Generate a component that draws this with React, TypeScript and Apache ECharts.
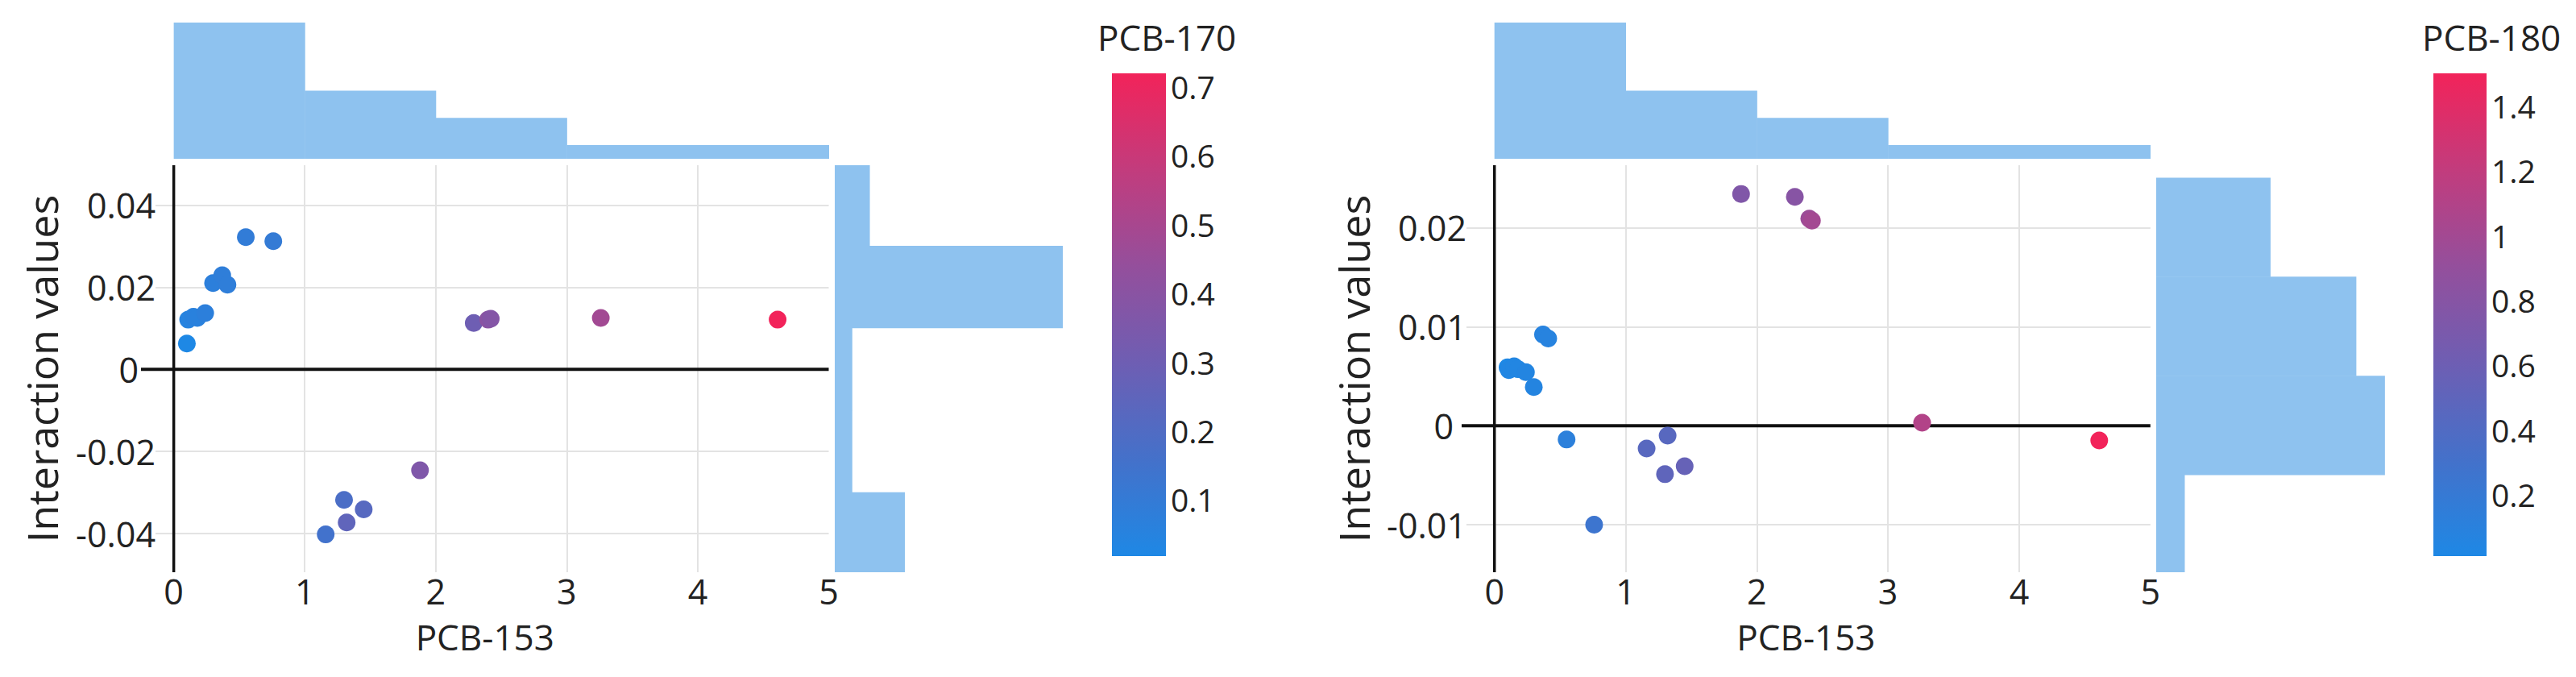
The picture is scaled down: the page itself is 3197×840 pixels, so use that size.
import React, { useEffect, useRef } from 'react';
import * as echarts from 'echarts';

// ---- data ----
const pcb153 = [0.10, 0.11, 0.15, 0.18, 0.24, 0.30, 0.37, 0.41, 0.55, 0.76, 1.16, 1.30, 1.32, 1.45, 1.88, 2.29, 2.40, 2.42, 3.26, 4.61];

const interaction170 = [0.0063, 0.0121, 0.0128, 0.0125, 0.0137, 0.0210, 0.0229, 0.0206, 0.0322, 0.0312, -0.0402, -0.0318, -0.0373, -0.0341, -0.0246, 0.0113, 0.0121, 0.0123, 0.0125, 0.0121];
const pcb170 = [0.018, 0.05, 0.06, 0.06, 0.07, 0.07, 0.08, 0.08, 0.09, 0.10, 0.15, 0.18, 0.25, 0.22, 0.36, 0.30, 0.40, 0.38, 0.48, 0.719];

const interaction180 = [0.0059, 0.0056, 0.0060, 0.0057, 0.0054, 0.0039, 0.0092, 0.0088, -0.0014, -0.0100, -0.0023, -0.0049, -0.0010, -0.0041, 0.0234, 0.0231, 0.0209, 0.0207, 0.0003, -0.0015];
const pcb180 = [0.01, 0.03, 0.04, 0.04, 0.05, 0.06, 0.08, 0.08, 0.12, 0.25, 0.45, 0.50, 0.45, 0.55, 0.75, 0.80, 0.95, 1.00, 1.10, 1.50];

const xBinEdges = [0, 1, 2, 3, 4, 5];
const xBinCounts = [10, 5, 3, 1, 1];

const yBinEdges170 = [-0.05, -0.03, -0.01, 0.01, 0.03, 0.05];
const yBinCounts170 = [4, 1, 1, 13, 2];

const yBinEdges180 = [-0.015, -0.005, 0.005, 0.015, 0.025];
const yBinCounts180 = [1, 8, 7, 4];

const xTickLabels = [0, 1, 2, 3, 4, 5];
const xGridValues = [1, 2, 3, 4];
const yTicks170 = [-0.04, -0.02, 0, 0.02, 0.04];
const yTicks180 = [-0.01, 0, 0.01, 0.02];
const cbTicks170 = [0.1, 0.2, 0.3, 0.4, 0.5, 0.6, 0.7];
const cbTicks180 = [0.2, 0.4, 0.6, 0.8, 1, 1.2, 1.4];

const FONT = '"Open Sans", "Noto Sans", sans-serif';
const TEXT = '#222';
const HIST = '#8EC2EF';
const GRIDC = '#e3e3e3';
const CMAP = ['#1E88E5', '#4471CA', '#6E5EB3', '#944F9C', '#C23C7D', '#F2235A'];

type Panel = {
  xs: number[];
  ys: number[];
  cs: number[];
  cTitle: string;
  yTicks: number[];
  yEdges: number[];
  yCounts: number[];
  cbTicks: number[];
  left: number;
  width: number;
  yMin: number;
  yMax: number;
  rhLeft: number;
  rhMax: number;
  cbLeft: number;
  cbWidth: number;
  cMin: number;
  cMax: number;
  titleX: number;
  yLabelMargin: number;
  zeroPad: number;
  yNameGap: number;
};

const panels: Panel[] = [
  {
    xs: pcb153, ys: interaction170, cs: pcb170, cTitle: 'PCB-170',
    yTicks: yTicks170, yEdges: yBinEdges170, yCounts: yBinCounts170, cbTicks: cbTicks170,
    left: 175, width: 853.5, yMin: -0.0494, yMax: 0.0497,
    rhLeft: 1036, rhMax: 13.64, cbLeft: 1380, cbWidth: 67, cMin: 0.018, cMax: 0.719,
    titleX: 1362, yLabelMargin: -18, zeroPad: 21, yNameGap: 98,
  },
  {
    xs: pcb153, ys: interaction180, cs: pcb180, cTitle: 'PCB-180',
    yTicks: yTicks180, yEdges: yBinEdges180, yCounts: yBinCounts180, cbTicks: cbTicks180,
    left: 1814, width: 854.8, yMin: -0.0148, yMax: 0.0263,
    rhLeft: 2676, rhMax: 8.37, cbLeft: 3020, cbWidth: 66, cMin: 0.01, cMax: 1.5,
    titleX: 3006, yLabelMargin: -6, zeroPad: 16, yNameGap: 109,
  },
];

const X_MIN = -0.25;
const X_MAX = 5;
const SC_TOP = 205;
const SC_H = 505;
const TH_TOP = 28;
const TH_H = 169;
const RH_W = 297;
const CB_TOP = 91;
const CB_H = 599;

function fmt(v: number) {
  return String(+Number(v).toFixed(4));
}

function buildOption() {
  const grid: any[] = [];
  const xAxis: any[] = [];
  const yAxis: any[] = [];
  const series: any[] = [];
  const visualMap: any[] = [];
  const graphic: any[] = [];

  panels.forEach((p) => {
    const g0 = grid.length;
    // scatter grid
    grid.push({ left: p.left, top: SC_TOP, width: p.width, height: SC_H });
    // top histogram
    grid.push({ left: p.left, top: TH_TOP, width: p.width, height: TH_H });
    // right histogram
    grid.push({ left: p.rhLeft, top: SC_TOP, width: RH_W, height: SC_H });
    // colorbar
    grid.push({ left: p.cbLeft, top: CB_TOP, width: p.cbWidth, height: CB_H });

    xAxis.push({
      gridIndex: g0, type: 'value', min: X_MIN, max: X_MAX,
      axisLine: { show: false },
      axisTick: { show: false, customValues: xGridValues },
      splitLine: { show: true, lineStyle: { color: GRIDC, width: 2 } },
      axisLabel: {
        customValues: xTickLabels, fontSize: 43, color: TEXT, fontFamily: FONT, margin: 2,
        formatter: (v: number) => fmt(v),
      },
      name: 'PCB-153', nameLocation: 'middle', nameGap: 58,
      nameTextStyle: { fontSize: 44, color: TEXT, fontFamily: FONT },
    });
    yAxis.push({
      gridIndex: g0, type: 'value', min: p.yMin, max: p.yMax,
      axisLine: { show: false },
      axisTick: { show: false, customValues: p.yTicks.filter((v) => v !== 0) },
      splitLine: { show: true, lineStyle: { color: GRIDC, width: 2 } },
      axisLabel: {
        customValues: p.yTicks, fontSize: 43, color: TEXT, fontFamily: FONT,
        margin: p.yLabelMargin, backgroundColor: '#fff',
        formatter: (v: number) => (Math.abs(v) < 1e-12 ? '{z|0}' : fmt(v)),
        rich: { z: { fontSize: 43, color: TEXT, fontFamily: FONT, padding: [0, p.zeroPad, 0, 0] } },
      },
      name: 'Interaction values', nameLocation: 'middle', nameRotate: 90, nameGap: p.yNameGap,
      nameTextStyle: { fontSize: 52, color: TEXT, fontFamily: FONT },
    });

    xAxis.push({ gridIndex: g0 + 1, type: 'value', min: X_MIN, max: X_MAX, show: false });
    yAxis.push({ gridIndex: g0 + 1, type: 'value', min: 0, max: 10, show: false });

    xAxis.push({ gridIndex: g0 + 2, type: 'value', min: 0, max: p.rhMax, show: false });
    yAxis.push({ gridIndex: g0 + 2, type: 'value', min: p.yMin, max: p.yMax, show: false });

    xAxis.push({ gridIndex: g0 + 3, type: 'value', min: 0, max: 1, show: false });
    yAxis.push({
      gridIndex: g0 + 3, type: 'value', min: p.cMin, max: p.cMax, position: 'right',
      axisLine: { show: false }, axisTick: { show: false }, splitLine: { show: false },
      axisLabel: {
        customValues: p.cbTicks, margin: 6, fontSize: 39, color: TEXT, fontFamily: FONT,
        formatter: (v: number) => fmt(v),
      },
    });

    // zero lines
    series.push({
      type: 'custom', xAxisIndex: g0, yAxisIndex: g0, z: 1, silent: true,
      data: [[0, 0]],
      renderItem: (params: any, api: any) => {
        const a = api.coord([X_MIN, 0]);
        const b = api.coord([X_MAX, 0]);
        const c = api.coord([0, p.yMin]);
        const d = api.coord([0, p.yMax]);
        return {
          type: 'group',
          children: [
            { type: 'line', shape: { x1: a[0], y1: a[1], x2: b[0], y2: b[1] }, style: { stroke: '#111', lineWidth: 4 } },
            { type: 'line', shape: { x1: c[0], y1: c[1], x2: d[0], y2: d[1] }, style: { stroke: '#111', lineWidth: 3.5 } },
          ],
        };
      },
    });

    // scatter
    const scatterIndex = series.length;
    series.push({
      type: 'scatter', xAxisIndex: g0, yAxisIndex: g0, z: 3,
      symbolSize: 22,
      itemStyle: { opacity: 1 },
      data: p.xs.map((x, i) => [x, p.ys[i], p.cs[i]]),
    });
    visualMap.push({
      type: 'continuous', show: false, seriesIndex: scatterIndex, dimension: 2,
      min: p.cMin, max: p.cMax, inRange: { color: CMAP },
    });

    // top histogram
    series.push({
      type: 'custom', xAxisIndex: g0 + 1, yAxisIndex: g0 + 1, silent: true, clip: true,
      data: xBinCounts.map((c, i) => [xBinEdges[i], xBinEdges[i + 1], c]),
      renderItem: (params: any, api: any) => {
        const p0 = api.coord([api.value(0), 0]);
        const p1 = api.coord([api.value(1), api.value(2)]);
        return {
          type: 'rect',
          shape: { x: p0[0], y: p1[1], width: p1[0] - p0[0] + 0.5, height: p0[1] - p1[1] },
          style: { fill: HIST },
        };
      },
    });

    // right histogram
    series.push({
      type: 'custom', xAxisIndex: g0 + 2, yAxisIndex: g0 + 2, silent: true, clip: true,
      data: p.yCounts.map((c, i) => [p.yEdges[i], p.yEdges[i + 1], c]),
      renderItem: (params: any, api: any) => {
        const p0 = api.coord([0, api.value(0)]);
        const p1 = api.coord([api.value(2), api.value(1)]);
        return {
          type: 'rect',
          shape: { x: p0[0], y: p1[1] - 0.5, width: p1[0] - p0[0], height: p0[1] - p1[1] + 0.5 },
          style: { fill: HIST },
        };
      },
    });

    // colorbar
    series.push({
      type: 'custom', xAxisIndex: g0 + 3, yAxisIndex: g0 + 3, silent: true,
      data: [[p.cMin, p.cMax]],
      renderItem: (params: any, api: any) => {
        const top = api.coord([0, api.value(1)]);
        const bot = api.coord([1, api.value(0)]);
        return {
          type: 'rect',
          shape: { x: top[0], y: top[1], width: bot[0] - top[0], height: bot[1] - top[1] },
          style: {
            fill: new echarts.graphic.LinearGradient(0, 1, 0, 0,
              CMAP.map((c, i) => ({ offset: i / (CMAP.length - 1), color: c }))),
          },
        };
      },
    });

    graphic.push({
      type: 'text', left: p.titleX, top: 54 - 30,
      style: { text: p.cTitle, fontSize: 44, fill: TEXT, fontFamily: FONT },
    });
  });

  return {
    animation: false,
    backgroundColor: '#fff',
    grid, xAxis, yAxis, series, visualMap, graphic,
  };
}

export default function App() {
  const ref = useRef<HTMLDivElement>(null);
  useEffect(() => {
    document.body.style.margin = '0';
    if (!ref.current) return;
    const chart = echarts.init(ref.current, null, { renderer: 'svg' });
    chart.setOption(buildOption() as any);
    return () => chart.dispose();
  }, []);
  return (
    <div
      ref={ref}
      style={{ position: 'absolute', left: 0, top: 0, width: 3197, height: 840 }}
    />
  );
}
